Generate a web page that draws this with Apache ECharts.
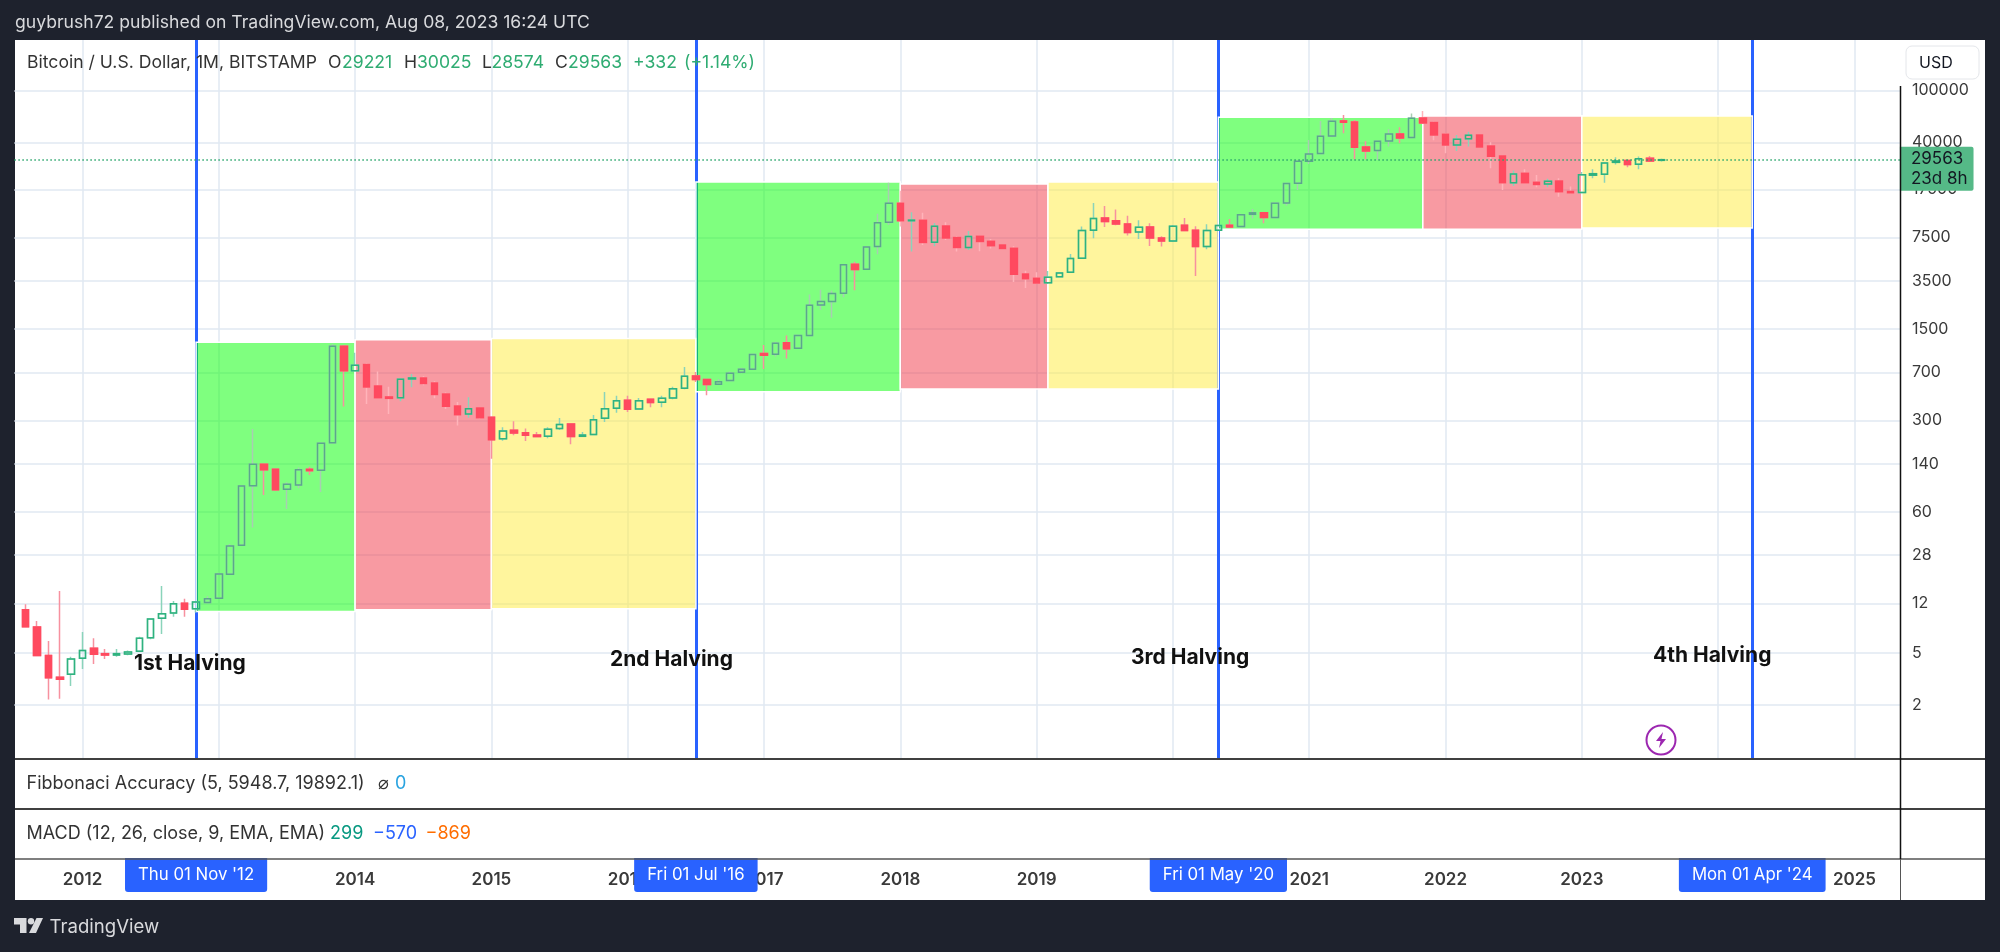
<!DOCTYPE html>
<html><head><meta charset="utf-8"><title>Bitcoin halving cycles</title>
<style>html,body{margin:0;height:100%;background:#1e222d}#c{width:2000px;height:952px}</style>
<script src="https://cdn.jsdelivr.net/npm/echarts@6/dist/echarts.min.js"></script></head>
<body><div id="c"></div>
<script>
const opens=[10.7,7.91,4.78,3.26,3.44,4.56,5.44,4.95,4.83,4.92,5.16,6.56,9.22,10.1,12,10.9,12.2,13.1,20,33.3,95.2,139,127,89.3,96.4,127,125,203,1110,721,802,551,454,448,623,634,580,478,387,336,374,317,217,252,242,232,227,261,282,227,234,312,372,428,367,435,413,446,528,657,616,567,605,700,738,973,961,1180,1070,1340,2290,2440,2810,4690,4290,6400,9820,13700,10100,10200,6910,9210,7500,6290,7670,7030,6590,6210,3950,3660,3390,3770,4070,5210,8530,10600,10100,9540,8280,9050,7450,7070,9310,8530,6400,8530,9310,9100,11300,11600,10700,13800,19500,28700,32900,44900,58500,57400,37000,34700,41100,46500,43600,61600,56800,46200,38300,42800,45700,37600,31600,19700,23300,19900,19300,20300,16900,16600,22500,22900,28200,29100,27300,30300,29221];
const closes=[7.96,4.78,3.24,3.15,4.5,5.22,4.89,4.83,4.95,5.1,6.48,9.11,10,11.9,10.8,12.3,13,20.1,32.9,94.7,139,126,88.8,97.5,126,124,201,1110,721,792,541,448,443,619,634,574,473,385,332,369,315,214,249,241,231,226,257,280,226,232,304,369,425,365,425,411,443,525,653,616,564,594,688,738,956,945,1170,1060,1340,2280,2430,2800,4660,4270,6360,9760,13700,10100,10200,6870,9150,7450,6290,7630,6990,6510,6180,3930,3640,3380,3730,4020,5180,8480,10500,9940,9540,8190,8990,7450,7070,9150,8480,6400,8480,9260,9050,11200,11600,10700,13700,19400,28700,32700,44600,58100,57100,36800,34500,40900,46500,43300,61300,56400,45700,38300,42300,45400,37000,31400,19700,23000,19700,19100,20200,16800,16500,22700,23100,27900,28900,27100,30100,28900,29563];
const lows=[7.96,4.78,2.21,2.24,2.8,3.78,4.13,4.5,4.69,4.81,5.13,6.37,7,9.49,9.49,10.2,12.1,13,19.8,32.9,45.5,80.8,86.7,63.2,90.9,115,85.2,201,383,717,401,443,336,420,538,557,443,367,275,315,308,153,210,231,209,223,219,254,197,224,231,292,344,348,363,378,378,435,519,591,467,560,598,688,730,743,923,891,1060,1340,2100,1830,2620,2970,4240,5590,9370,9100,5860,6590,6440,7200,5860,6030,5890,6180,6100,3440,3090,3320,3320,3730,4020,5150,7410,9050,9310,7770,7320,6470,6400,6950,8430,3820,6100,8430,8940,9050,10500,9650,10600,13200,17300,27400,32500,44400,47000,29800,29800,29400,37200,39500,43100,55400,41600,33100,34500,37200,36600,25400,17300,18600,19500,18200,18200,15400,16200,16400,21300,19700,27100,25900,25000,28400,28574];
const highs=[11.8,8.79,6.18,14.9,4.69,7.25,6.48,5.37,5.37,5.22,6.67,9.22,16.3,12.5,13,12.5,13.6,20.6,34.1,95.8,258,139,129,101,131,133,203,1150,1130,990,821,709,544,630,680,653,598,490,415,451,376,321,266,296,261,245,266,313,285,245,330,495,464,464,446,438,464,544,769,704,623,619,709,760,961,1130,1200,1340,1350,2750,3000,2950,4720,4910,6400,11400,19700,17100,11700,11600,9710,9820,7720,8430,7720,7320,6670,6440,4190,4070,4170,4100,5620,9100,13800,13100,12300,11000,10200,9650,7670,9370,10600,9150,9480,9420,10400,11400,12400,11800,13900,19600,29100,41800,58500,61600,65000,59500,40900,41300,50500,52300,66500,69700,57800,47000,45700,48400,46200,40200,32100,24400,25000,22600,21100,21300,18400,23800,25000,28200,30800,29400,31200,31600,30025];
const yTicks=[2,5,12,28,60,140,300,700,1500,3500,7500,17500,40000,100000];
const lastPrice=29563;
const firstCandleMonth='2011-08';
const halvingMonths=['2012-11','2016-07','2020-05','2024-04'];
const halvingTags=["Thu 01 Nov '12","Fri 01 Jul '16","Fri 01 May '20","Mon 01 Apr '24"];
const zoneStarts=['2012-11','2014-01','2015-01','2016-07','2018-01','2019-02','2020-05','2021-11','2023-01'];
const zoneEnds=['2014-01','2015-01','2016-07','2018-01','2019-02','2020-05','2021-11','2023-01','2024-04'];
const zoneLows=[10.4,10.7,10.9,498,522,522,8690,8690,8890];
const zoneHighs=[1190,1240,1270,20000,19300,20000,62400,63800,63800];
const zoneKinds=['g','r','y','g','r','y','g','r','y'];
const zoneFill={g:'rgba(0,255,0,0.5)',r:'rgba(242,54,69,0.5)',y:'rgba(255,235,59,0.5)'};

const pad=n=>String(n).padStart(2,'0');
const categories=[];
for(let y=2011,m=7;categories.length<167;m++){if(m>12){m=1;y++}categories.push(y+'-'+pad(m))}
const startIdx=categories.indexOf(firstCandleMonth);
const inGreen=i=>zoneKinds.some((k,z)=>k==='g'&&i>categories.indexOf(zoneStarts[z])&&i<categories.indexOf(zoneEnds[z]));
const inRed=i=>zoneKinds.some((k,z)=>k==='r'&&i>=categories.indexOf(zoneStarts[z])&&i<categories.indexOf(zoneEnds[z]));
const blank=['-','-','-','-'];
const RED='#ff4a5f';
const wickData=categories.map((c,i)=>{
  const k=i-startIdx; if(k<0||k>=opens.length) return blank;
  const up=inGreen(i)?'#a9cdb2':'#8ad4ba', dn=inRed(i)?'#ffb4ba':'#f7919f';
  const s=closes[k]>opens[k]?up:dn;
  return {value:[opens[k],closes[k],lows[k],highs[k]],itemStyle:{color:'rgba(255,255,255,0)',color0:'rgba(255,255,255,0)',borderColor:s,borderColor0:s}};
});
const bodyData=categories.map((c,i)=>{
  const k=i-startIdx; if(k<0||k>=opens.length) return blank;
  const isUp=closes[k]>opens[k];
  const s=isUp?(inGreen(i)?'#5ba68d':'#2fb27f'):RED;
  const f=isUp?'rgba(255,255,255,0)':RED;
  return {value:[opens[k],closes[k],Math.min(opens[k],closes[k]),Math.max(opens[k],closes[k])],itemStyle:{color:f,color0:f,borderColor:s,borderColor0:s}};
});
const F='Inter, "Noto Sans", sans-serif';
const txt=(x,y,text,fill,font,extra)=>({type:'text',z:20,silent:true,style:Object.assign({x,y,text,fill,font:font||('17.6px '+F),align:'left',verticalAlign:'middle'},extra||{})});
const ln=(x1,y1,x2,y2,c,w)=>({type:'line',z:15,silent:true,shape:{x1,y1,x2,y2},style:{stroke:c,lineWidth:w}});
const chart=echarts.init(document.getElementById('c'),null,{renderer:'canvas'});
const G='#2fac72';
const PANE='18px '+F, HALV='700 21px '+F;
chart.setOption({
  animation:false,backgroundColor:'#1e222d',
  grid:{left:14.35,right:100.1,top:40,height:718,containLabel:false},
  tooltip:{show:false},legend:{show:false},
  xAxis:{type:'category',data:categories,boundaryGap:false,z:0,
    axisLine:{show:false},axisTick:{show:false},
    axisLabel:{interval:(i,v)=>v.endsWith('-01')&&v>='2012',formatter:v=>v.slice(0,4),margin:113,color:'#3a3a3a',fontFamily:F,fontSize:17,fontWeight:600},
    splitLine:{show:true,interval:(i,v)=>v.endsWith('-01')&&v>='2012',lineStyle:{color:'#e0e9f2',width:1.5}}},
  yAxis:{type:'log',logBase:10,position:'right',min:0.7885,max:243000,
    axisLine:{show:false},axisTick:{show:false,customValues:yTicks},
    axisLabel:{customValues:yTicks,margin:12,color:'#3a3a3a',fontFamily:F,fontSize:16,padding:[2,0,0,0],formatter:v=>String(Math.round(v))},
    splitLine:{show:true,lineStyle:{color:'#e0e9f2',width:1.5}}},
  series:[
    {type:'line',name:'Halving lines',data:[],silent:true,z:1,
      markLine:{z:0.5,silent:true,symbol:'none',animation:false,label:{show:false},lineStyle:{color:'#2962ff',width:3,type:'solid'},
        data:halvingMonths.map(m=>({xAxis:m}))}},
    {type:'line',name:'Zones',data:[],silent:true,z:1,
      markArea:{z:1,silent:true,animation:false,
        data:zoneStarts.map((s,i)=>[{xAxis:s,yAxis:zoneLows[i],itemStyle:{color:zoneFill[zoneKinds[i]],borderColor:'#fff',borderWidth:1.5}},{xAxis:zoneEnds[i],yAxis:zoneHighs[i]}])}},
    {type:'candlestick',name:'Wicks',data:wickData,barWidth:7,silent:true,z:2,itemStyle:{borderWidth:1.5}},
    {type:'candlestick',name:'BTCUSD',data:bodyData,barWidth:7,silent:true,z:3,itemStyle:{borderWidth:1.5}},
    {type:'line',name:'Last price',data:[],silent:true,z:4,
      markLine:{z:5,silent:true,symbol:'none',animation:false,lineStyle:{color:'#2aa56c',width:1.5,type:[1.5,2.5]},
        label:{show:true,position:'end',distance:0,offset:[0,9],formatter:'29563\n23d 8h',color:'#131722',fontFamily:F,fontSize:17,lineHeight:20,backgroundColor:'#55b987',padding:[3,6,1,11],borderRadius:[0,2,2,0],align:'left'},
        data:[{yAxis:lastPrice}]}},
    {type:'line',name:'Halving tags',data:[],silent:true,z:6,
      markLine:{z:6,silent:true,symbol:'none',animation:false,lineStyle:{color:'rgba(0,0,0,0)',width:1},
        label:{show:true,position:'start',distance:0,offset:[0,100],formatter:'{b}',color:'#fff',fontFamily:F,fontSize:16.8,lineHeight:20,backgroundColor:'#2962ff',padding:[7,13],borderRadius:[0,0,3,3]},
        data:halvingMonths.map((m,i)=>({xAxis:m,name:halvingTags[i]}))}}
  ],
  graphic:[
    {type:'rect',z:-10,silent:true,shape:{x:15,y:40,width:1970,height:860},style:{fill:'#fff'}},
    ln(15,759,1985,759,'#000',1.5),ln(15,809,1985,809,'#000',1.5),ln(15,859,1985,859,'#555',1.5),
    ln(1900.5,86,1900.5,859,'#111',1.5),ln(1900.5,859,1900.5,900,'#555',1),
    txt(15,23,'guybrush72 published on TradingView.com, Aug 08, 2023 16:24 UTC','#d9dadd'),
    txt(27,63,'Bitcoin / U.S. Dollar, 1M, BITSTAMP','#333'),
    txt(328,63,'O','#333'),txt(342,63,'29221',G),txt(404,63,'H','#333'),txt(417,63,'30025',G),
    txt(482,63,'L','#333'),txt(491.5,63,'28574',G),txt(555,63,'C','#333'),txt(568,63,'29563',G),
    txt(633,63,'+332',G),txt(684,63,'(+1.14%)',G),
    txt(26.5,784,'Fibbonaci Accuracy (5, 5948.7, 19892.1)','#333',PANE),txt(378,784,'⌀','#333',PANE),txt(395,784,'0','#29a3e0',PANE),
    txt(26.5,834,'MACD (12, 26, close, 9, EMA, EMA)','#333',PANE),txt(330,834,'299','#089981',PANE),txt(373,834,'−570','#2962ff',PANE),txt(425.5,834,'−869','#ff6d00',PANE),
    txt(134,664,'1st Halving','#111',HALV),txt(610,660,'2nd Halving','#111',HALV),
    txt(1131,658,'3rd Halving','#111',HALV),txt(1653,656,'4th Halving','#111',HALV),
    {type:'rect',z:15,silent:true,shape:{x:1906,y:46,width:73,height:33,r:6},style:{fill:'#fff',stroke:'#e4e6ea',lineWidth:1}},
    txt(1919,63,'USD','#131722','16px '+F),
    {type:'circle',z:15,silent:true,shape:{cx:1661,cy:740,r:14.5},style:{fill:'none',stroke:'#9c27b0',lineWidth:2}},
    {type:'polygon',z:15,silent:true,shape:{points:[[1663,732],[1656,741],[1660.5,741],[1659,748],[1666,739],[1661.5,739]]},style:{fill:'#9c27b0'}},
    {type:'polygon',z:15,silent:true,shape:{points:[[14,918],[26.5,918],[26.5,933],[20,933],[20,924.5],[14,924.5]]},style:{fill:'#d9dadd'}},
    {type:'circle',z:15,silent:true,shape:{cx:31,cy:921.3,r:3.2},style:{fill:'#d9dadd'}},
    {type:'polygon',z:15,silent:true,shape:{points:[[43,918],[36.5,918],[29,933],[36,933]]},style:{fill:'#d9dadd'}},
    txt(49.5,927,'TradingView','#d9dadd','18.6px '+F)
  ]
});
</script></body></html>
